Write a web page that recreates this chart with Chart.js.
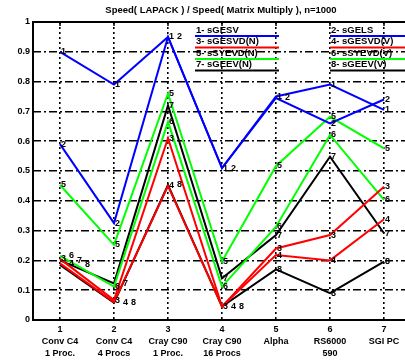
<!DOCTYPE html>
<html>
<head>
<meta charset="utf-8">
<script src="https://cdn.jsdelivr.net/npm/chart.js@4.4.0/dist/chart.umd.min.js"></script>
<style>
  html, body { margin: 0; padding: 0; background: #fff; overflow: hidden; width: 405px; height: 364px; }
  #wrap { position: relative; width: 412px; height: 364px; }
</style>
</head>
<body>
<div id="wrap"><canvas id="c" width="412" height="364"></canvas></div>
<script>
  const TITLE = "Speed( LAPACK ) / Speed( Matrix Multiply ), n=1000";

  // machines on the x axis (number, name, processors)
  const MACHINES = [
    ["1", "Conv C4", "1 Proc."],
    ["2", "Conv C4", "4 Procs"],
    ["3", "Cray C90", "1 Proc."],
    ["4", "Cray C90", "16 Procs"],
    ["5", "Alpha", ""],
    ["6", "RS6000", "590"],
    ["7", "SGI PC", ""],
  ];

  const ROUTINES = [
    "1- sGESV", "2- sGELS", "3- sGESVD(N)", "4- sGESVD(V)",
    "5- sSYEVD(N)", "6- sSYEVD(V)", "7- sGEEV(N)", "8- sGEEV(V)",
  ];
  const COLORS = ["#0000ff", "#0000ff", "#ff0000", "#ff0000", "#00ff00", "#00ff00", "#000000", "#000000"];

  const s1 = [0.90, 0.79, 0.95, 0.51, 0.75, 0.79, 0.705];
  const s2 = [0.59, 0.325, 0.95, 0.51, 0.745, 0.66, 0.74];
  const s3 = [0.205, 0.067, 0.61, 0.045, 0.24, 0.285, 0.447];
  const s4 = [0.19, 0.06, 0.45, 0.045, 0.218, 0.20, 0.338];
  const s5 = [0.453, 0.252, 0.76, 0.196, 0.517, 0.682, 0.576];
  const s6 = [0.215, 0.112, 0.665, 0.112, 0.313, 0.621, 0.403];
  const s7 = [0.20, 0.123, 0.72, 0.14, 0.285, 0.548, 0.291];
  const s8 = [0.185, 0.058, 0.453, 0.045, 0.17, 0.09, 0.196];
  const SERIES = [s1, s2, s3, s4, s5, s6, s7, s8];

  const Y_MIN = 0, Y_MAX = 1, Y_STEP = 0.1;

  const FONT = "Liberation Sans, Arial, sans-serif";

  // title, frame, top ticks, number labels and the legend
  const decorPlugin = {
    id: "decor",
    afterDatasetsDraw(chart) {
      const { ctx, chartArea: a, scales } = chart;
      ctx.save();

      // frame
      ctx.strokeStyle = "#000";
      ctx.lineWidth = 2;
      ctx.strokeRect(a.left, a.top, a.right - a.left, a.bottom - a.top);

      // small ticks along the top edge
      ctx.lineWidth = 1.5;
      MACHINES.forEach((m, i) => {
        const x = scales.x.getPixelForValue(i);
        ctx.beginPath();
        ctx.moveTo(x, a.top);
        ctx.lineTo(x, a.top + 4);
        ctx.stroke();
      });

      // series number at each point
      ctx.font = "bold 9px " + FONT;
      ctx.fillStyle = "#000";
      ctx.textAlign = "left";
      ctx.textBaseline = "middle";
      const placed = [];
      chart.data.datasets.forEach((ds, di) => {
        const meta = chart.getDatasetMeta(di);
        meta.data.forEach((pt) => {
          let x = pt.x + 1, y = pt.y;
          while (placed.some((p) => Math.abs(p.x - x) < 6 && Math.abs(p.y - y) < 6)) x += 8;
          placed.push({ x, y });
          ctx.fillText(String(di + 1), x, y);
        });
      });

      // legend: two columns, coloured line under each entry
      ctx.font = "bold 9.5px " + FONT;
      const colX = [196, 331];
      const colEnd = [279, 415];
      const rowY = [30, 41.5, 53, 64.5];
      ROUTINES.forEach((name, i) => {
        const col = i % 2, row = Math.floor(i / 2);
        ctx.fillStyle = "#000";
        ctx.fillText(name, colX[col], rowY[row]);
        ctx.strokeStyle = COLORS[i];
        ctx.lineWidth = 2;
        ctx.beginPath();
        ctx.moveTo(colX[col] - 1, rowY[row] + 6);
        ctx.lineTo(colEnd[col], rowY[row] + 6);
        ctx.stroke();
      });

      // title
      ctx.font = "bold 9.5px " + FONT;
      ctx.textAlign = "center";
      ctx.fillStyle = "#000";
      ctx.fillText(TITLE, (a.left + a.right) / 2 - 1, 10);

      ctx.restore();
    },
  };

  new Chart(document.getElementById("c"), {
    type: "line",
    data: {
      labels: MACHINES,
      datasets: SERIES.map((s, i) => ({
        label: ROUTINES[i],
        data: s,
        borderColor: COLORS[i],
        backgroundColor: COLORS[i],
        borderWidth: 2,
        pointRadius: 0,
        tension: 0,
        fill: false,
      })),
    },
    options: {
      responsive: false,
      animation: false,
      layout: { padding: { left: 0, top: 22, right: 1, bottom: 0 } },
      plugins: { legend: { display: false }, title: { display: false }, tooltip: { enabled: false } },
      scales: {
        x: {
          type: "category",
          offset: true,
          grid: { offset: false, color: "#000", lineWidth: 1.6, drawTicks: false },
          border: { display: false, dash: [2, 3] },
          ticks: {
            color: "#000",
            padding: 3,
            maxRotation: 0,
            autoSkip: false,
            font: { family: FONT, size: 9, weight: "bold", lineHeight: 1.35 },
          },
          afterFit(scale) { scale.height = 44; },
        },
        y: {
          min: Y_MIN,
          max: Y_MAX,
          grid: { color: "#000", lineWidth: 1.6, drawTicks: false },
          border: { display: false, dash: [8, 3, 2, 3] },
          ticks: {
            stepSize: Y_STEP,
            color: "#000",
            padding: 3,
            font: { family: FONT, size: 9, weight: "bold" },
            callback: (v) => (v === 0 ? "0" : v === 1 ? "1" : Number(v).toFixed(1)),
          },
          afterFit(scale) { scale.width = 33; },
        },
      },
    },
    plugins: [decorPlugin],
  });
</script>
</body>
</html>
